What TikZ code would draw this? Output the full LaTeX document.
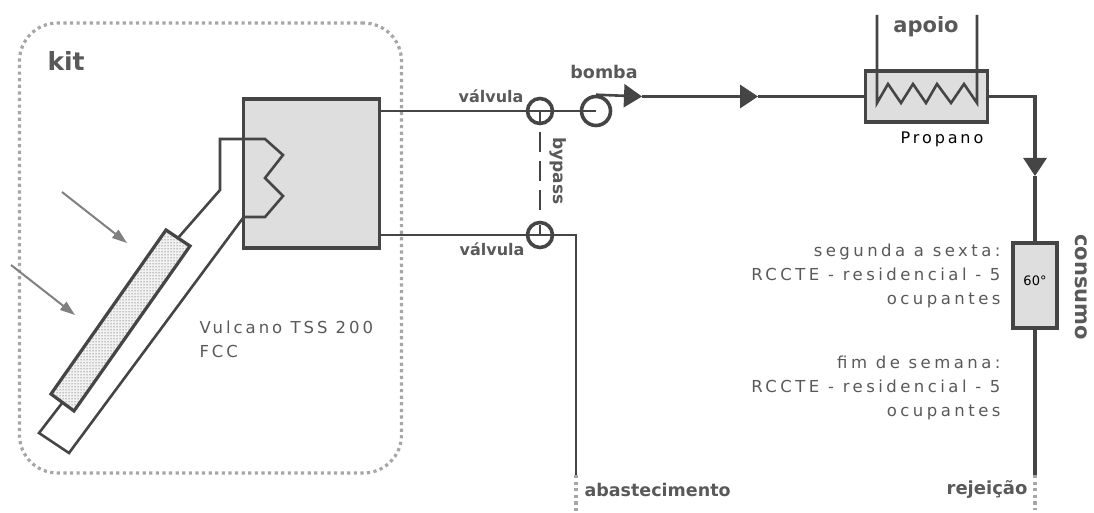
\documentclass[tikz,border=0pt]{standalone}
\usepackage{fontspec}
\setmainfont{DejaVu Sans}
\newfontfamily\spaced[LetterSpace=18]{DejaVu Sans}
\newfontfamily\spacedwide[LetterSpace=21]{DejaVu Sans}
\usetikzlibrary{arrows.meta,patterns}
\definecolor{tubo}{gray}{0.27}
\definecolor{rotulo}{gray}{0.35}
\tikzset{
  pipe/.style={draw=tubo,line width=2.6pt},
  thick pipe/.style={draw=tubo,line width=3.2pt},
  dotted pipe/.style={draw=gray!70,line width=3.2pt,dash pattern=on 3.2pt off 3.4pt},
  boxed/.style={draw=tubo,line width=3.6pt,fill=black!13,inner sep=0pt},
  valve/.style={circle,draw=tubo,line width=3.6pt,minimum size=25pt,inner sep=0pt},
  ray/.style={draw=gray,line width=2pt,-{Triangle[length=15pt,width=10pt]}},
  flow/.style={-{Triangle[length=18pt,width=23pt]}},
  bold label/.style={text=rotulo,font=\bfseries\fontsize{16}{18}\selectfont},
  big label/.style={text=rotulo,font=\bfseries\fontsize{21}{23}\selectfont},
  thin label/.style={text=rotulo,font=\spaced\fontsize{16.5}{24}\selectfont},
  wide label/.style={text=rotulo,font=\spacedwide\fontsize{16.5}{24}\selectfont}
}
\begin{document}
\begin{tikzpicture}[x=1pt,y=-1pt]
\useasboundingbox (0,0) rectangle (1094,513);
\node[dotted pipe,draw,rounded corners=38pt,minimum width=382pt,minimum height=450pt,inner sep=0pt] (kit) at (210.5,248) {};
\node[big label,font=\bfseries\fontsize{25}{27}\selectfont,right] (kitlabel) at (44,61) {kit};
\node[boxed,minimum width=136pt,minimum height=149pt] (tanque) at (311.5,173.5) {};
\node[boxed,minimum width=122pt,minimum height=51pt] (apoiobox) at (926.5,96.5) {};
\node[boxed,minimum width=44pt,minimum height=85pt] (consumobox) at (1035,285.5) {};
\node[valve] (valvulaA) at (540,111) {};
\node[valve] (valvulaB) at (540,235) {};
\node[valve,minimum size=29pt] (bomba) at (596,111) {};
\coordinate (coletorA) at (178,238);
\coordinate (coletorB) at (62.5,402.5);
\coordinate (seta1) at (642,96.5);
\coordinate (seta2) at (758,96.5);
\coordinate (seta3) at (1035,176);
\coordinate (canto) at (576,235);
\coordinate (abastA) at (576,475);
\coordinate (abastB) at (576,513);
\coordinate (rejA) at (1035,475);
\coordinate (rejB) at (1035,510);
\coordinate (bypassA) at (540,132);
\coordinate (bypassB) at (540,210);
% coletor
\draw[pipe] (coletorA) -- (220,190) -- (220,139) -- (265,139) -- (283,155) -- (265,178) -- (283,196) -- (265,217) -- (243,217);
\draw[pipe] (243,218) -- (69,453) -- (39,433) -- (coletorB);
\draw[thick pipe,preaction={fill=black!5},pattern=dots,pattern color=black!80] (166,230) -- (190,246) -- (74,411) -- (51,394) -- cycle;
\draw[ray] (62,192) -- (127,243);
\draw[ray] (11,265) -- (75,315);
% circuito
\draw[pipe] (tanque.east |- valvulaA) -- (valvulaA.center) -- (bomba.center);
\draw[pipe] (valvulaA.center) -- (valvulaA.south);
\draw[pipe] (tanque.east |- valvulaB) -- (canto) -- (abastA);
\draw[pipe] ([yshift=-4pt]valvulaB.north) -- (valvulaB.center);
\draw[pipe,dash pattern=on 20pt off 9pt] (bypassA) -- (bypassB);
\draw[pipe,flow] (bomba.north) -- (seta1);
\draw[thick pipe,flow] (seta1) -- (seta2);
\draw[thick pipe] (seta2) -- (apoiobox.west |- seta2);
\draw[thick pipe,flow] (apoiobox.east |- seta2) -- (seta2 -| consumobox) -- (seta3);
\draw[thick pipe] (seta3) -- (consumobox.north);
\draw[thick pipe] (consumobox.south) -- (rejA);
\draw[dotted pipe] (abastA) -- (abastB);
\draw[dotted pipe] (rejA) -- (rejB);
% apoio
\draw[pipe] (877,15) -- (877,103) -- (888,84) -- (901,103) -- (913,84) -- (926,103) -- (937,84) -- (951,103) -- (964,84) -- (977,103) -- (977,15);
% textos
\node[thin label,align=left,right] (vulcano) at (196,339) {Vulcano TSS 200\\FCC};
\node[bold label] (valvulaAlabel) at (491,96) {válvula};
\node[bold label] (valvulaBlabel) at (492,249) {válvula};
\node[bold label,font=\bfseries\fontsize{17.5}{19}\selectfont] (bombalabel) at (604,72) {bomba};
\node[bold label,font=\bfseries\fontsize{17}{19}\selectfont,rotate=-90] (bypass) at (558,171) {bypass};
\node[big label] (apoiolabel) at (926,27) {apoio};
\node[text=black,font=\spaced\fontsize{16}{18}\selectfont] (propano) at (942,139) {Propano};
\node[text=black,font=\fontsize{13}{15}\selectfont] (temp) at (1035,281) {60°};
\node[big label,rotate=-90] (consumo) at (1081,287) {consumo};
\node[wide label,align=right,left] (semana) at (1004,276) {segunda a sexta:\\RCCTE - residencial - 5\hspace{5pt}\\ocupantes};
\node[wide label,align=right,left] (fimsemana) at (1004,388) {fim de semana:\\RCCTE - residencial - 5\hspace{5pt}\\ocupantes};
\node[bold label,font=\bfseries\fontsize{17.5}{19}\selectfont,right] (abast) at (581,490) {abastecimento};
\node[bold label,font=\bfseries\fontsize{18}{20}\selectfont,left] (rejeicao) at (1031,489) {rejeição};
\end{tikzpicture}
\end{document}
